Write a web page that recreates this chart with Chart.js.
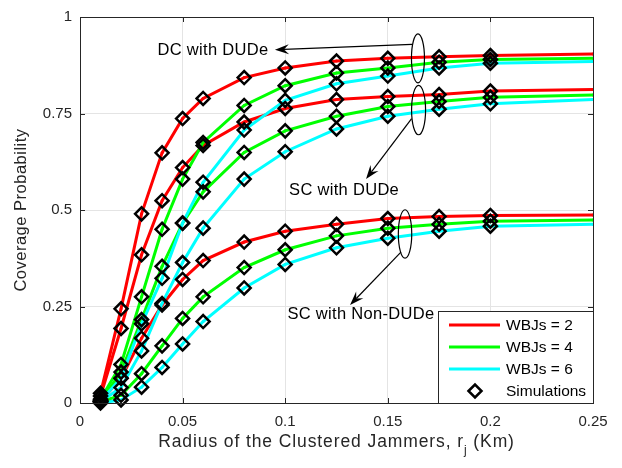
<!DOCTYPE html>
<html>
<head>
<meta charset="utf-8">
<script src="https://cdn.jsdelivr.net/npm/chart.js@4.4.0/dist/chart.umd.min.js"></script>
<style>
    html, body { margin: 0; padding: 0; background: #fff; }
    #wrap { width: 622px; height: 468px; }
</style>
</head>
<body>
<div id="wrap"><canvas id="coverageChart" width="622" height="468"></canvas></div>
<script>
// radius of the clustered jammers (Km); the last point has no simulation marker
const radius = [0.01, 0.02, 0.03, 0.04, 0.05, 0.06, 0.08, 0.1, 0.125, 0.15, 0.175, 0.2, 0.25];
const simCount = 12;

// DC with DUDe
const dcWbj2 = [0.025, 0.244, 0.49, 0.648, 0.737, 0.789, 0.843, 0.868, 0.886, 0.893, 0.897, 0.9, 0.904];
const dcWbj4 = [0.01, 0.1, 0.275, 0.45, 0.58, 0.675, 0.771, 0.822, 0.855, 0.868, 0.883, 0.89, 0.893];
const dcWbj6 = [0.005, 0.064, 0.205, 0.323, 0.466, 0.572, 0.707, 0.784, 0.827, 0.847, 0.868, 0.88, 0.885];

// SC with DUDe
const scWbj2 = [0.018, 0.193, 0.384, 0.524, 0.61, 0.667, 0.728, 0.763, 0.786, 0.794, 0.799, 0.808, 0.812];
const scWbj4 = [0.005, 0.08, 0.216, 0.354, 0.466, 0.547, 0.649, 0.705, 0.743, 0.768, 0.781, 0.792, 0.798];
const scWbj6 = [0.003, 0.04, 0.135, 0.258, 0.364, 0.453, 0.58, 0.651, 0.71, 0.743, 0.761, 0.775, 0.786];

// SC with Non-DUDe
const ndWbj2 = [0.005, 0.064, 0.168, 0.254, 0.32, 0.369, 0.417, 0.445, 0.463, 0.478, 0.483, 0.486, 0.487];
const ndWbj4 = [0.003, 0.02, 0.076, 0.148, 0.219, 0.275, 0.351, 0.397, 0.433, 0.453, 0.463, 0.471, 0.474];
const ndWbj6 = [0.0, 0.008, 0.041, 0.092, 0.153, 0.211, 0.298, 0.359, 0.402, 0.427, 0.445, 0.458, 0.463];

const xTicks = [0, 0.05, 0.1, 0.15, 0.2, 0.25];
const yTicks = [0, 0.25, 0.5, 0.75, 1];
const legendLabels = ['WBJs = 2', 'WBJs = 4', 'WBJs = 6', 'Simulations'];

const FONT = "'Liberation Sans', Arial, sans-serif";
const RED = '#ff0000', GREEN = '#00ff00', CYAN = '#00ffff';

const curves = [
    { values: dcWbj2, color: RED }, { values: dcWbj4, color: GREEN }, { values: dcWbj6, color: CYAN },
    { values: scWbj2, color: RED }, { values: scWbj4, color: GREEN }, { values: scWbj6, color: CYAN },
    { values: ndWbj2, color: RED }, { values: ndWbj4, color: GREEN }, { values: ndWbj6, color: CYAN },
];

const toPoints = (vals, n) => radius.slice(0, n).map((x, i) => ({ x: x, y: vals[i] }));

const datasets = [];
curves.forEach(c => {
    datasets.push({
        type: 'line',
        data: toPoints(c.values, radius.length),
        borderColor: c.color,
        backgroundColor: c.color,
        borderWidth: 3,
        pointRadius: 1.5,
        pointBorderWidth: 0,
        tension: 0,
        order: 2
    });
});
curves.forEach(c => {
    datasets.push({
        type: 'line',
        data: toPoints(c.values, simCount),
        showLine: false,
        pointStyle: 'rectRot',
        pointRadius: 6.5,
        pointBorderWidth: 2.5,
        pointBorderColor: '#000',
        pointBackgroundColor: 'rgba(0,0,0,0)',
        clip: false,
        order: 1
    });
});

// annotations, centres in data units
const notes = [
    { text: 'DC with DUDe', at: [0.0648, 0.913], from: [0.1618, 0.929], to: [0.095, 0.915] },
    { text: 'SC with DUDe', at: [0.1287, 0.55], from: [0.1616, 0.737], to: [0.1394, 0.58] },
    { text: 'SC with Non-DUDe', at: [0.1369, 0.229], from: [0.1564, 0.391], to: [0.1316, 0.254] },
];
const rings = [
    { c: [0.1647, 0.893], rx: 6.5, ry: 24.5 },
    { c: [0.165, 0.759], rx: 7, ry: 24.7 },
    { c: [0.1584, 0.438], rx: 6.7, ry: 24.2 },
];

function drawArrow(ctx, x1, y1, x2, y2) {
    const ang = Math.atan2(y2 - y1, x2 - x1);
    const len = 14, half = 5, notch = 9;
    ctx.beginPath();
    ctx.moveTo(x1, y1);
    ctx.lineTo(x2 - Math.cos(ang) * notch, y2 - Math.sin(ang) * notch);
    ctx.stroke();
    ctx.save();
    ctx.translate(x2, y2);
    ctx.rotate(ang);
    ctx.beginPath();
    ctx.moveTo(0, 0);
    ctx.lineTo(-len, -half);
    ctx.lineTo(-notch, 0);
    ctx.lineTo(-len, half);
    ctx.closePath();
    ctx.fill();
    ctx.restore();
}

const overlayPlugin = {
    id: 'overlay',
    afterDatasetsDraw(chart) {
        const { ctx, chartArea: a, scales: { x, y } } = chart;
        ctx.save();
        ctx.strokeStyle = '#262626';
        ctx.lineWidth = 1;
        ctx.beginPath();
        xTicks.forEach(v => {
            const px = Math.round(x.getPixelForValue(v)) + 0.5;
            ctx.moveTo(px, a.bottom); ctx.lineTo(px, a.bottom - 5);
            ctx.moveTo(px, a.top); ctx.lineTo(px, a.top + 5);
        });
        yTicks.forEach(v => {
            const py = Math.round(y.getPixelForValue(v)) + 0.5;
            ctx.moveTo(a.left, py); ctx.lineTo(a.left + 5, py);
            ctx.moveTo(a.right, py); ctx.lineTo(a.right - 5, py);
        });
        ctx.stroke();
        ctx.strokeRect(Math.round(a.left) + 0.5, Math.round(a.top) + 0.5,
            Math.round(a.right - a.left), Math.round(a.bottom - a.top));
        ctx.restore();
    },
    afterDraw(chart) {
        const { ctx, chartArea: a, scales: { x, y } } = chart;
        ctx.save();

        // annotations
        ctx.strokeStyle = '#000';
        ctx.fillStyle = '#000';
        ctx.lineWidth = 1.2;
        rings.forEach(r => {
            ctx.beginPath();
            ctx.ellipse(x.getPixelForValue(r.c[0]), y.getPixelForValue(r.c[1]), r.rx, r.ry, 0, 0, Math.PI * 2);
            ctx.stroke();
        });
        ctx.font = '16.5px ' + FONT;
        ctx.letterSpacing = '0.3px';
        ctx.textAlign = 'center';
        ctx.textBaseline = 'middle';
        notes.forEach(n => {
            drawArrow(ctx, x.getPixelForValue(n.from[0]), y.getPixelForValue(n.from[1]),
                x.getPixelForValue(n.to[0]), y.getPixelForValue(n.to[1]));
            ctx.fillText(n.text, x.getPixelForValue(n.at[0]), y.getPixelForValue(n.at[1]));
        });
        ctx.letterSpacing = '0px';

        // legend box
        const bw = 155, bh = 92;
        const bx = Math.round(a.right) - bw, by = Math.round(a.bottom) - bh;
        ctx.fillStyle = '#fff';
        ctx.fillRect(bx, by, bw, bh);
        ctx.strokeStyle = '#262626';
        ctx.lineWidth = 1;
        ctx.strokeRect(bx + 0.5, by + 0.5, bw, bh);
        const lineColors = [RED, GREEN, CYAN];
        ctx.font = '15.5px ' + FONT;
        ctx.textAlign = 'left';
        ctx.textBaseline = 'middle';
        legendLabels.forEach((label, i) => {
            const ly = by + 14 + i * 22;
            if (i < 3) {
                ctx.strokeStyle = lineColors[i];
                ctx.lineWidth = 3;
                ctx.beginPath();
                ctx.moveTo(bx + 11, ly); ctx.lineTo(bx + 62, ly);
                ctx.stroke();
            } else {
                const cx = bx + 37, r = 6.5;
                ctx.strokeStyle = '#000';
                ctx.lineWidth = 2.5;
                ctx.beginPath();
                ctx.moveTo(cx - r, ly); ctx.lineTo(cx, ly - r);
                ctx.lineTo(cx + r, ly); ctx.lineTo(cx, ly + r);
                ctx.closePath();
                ctx.stroke();
            }
            ctx.fillStyle = '#000';
            ctx.fillText(label, bx + 68, ly + 1);
        });

        // axis titles
        ctx.fillStyle = '#262626';
        const big = '17.5px ' + FONT, small = '12px ' + FONT;
        ctx.letterSpacing = '0.9px';
        ctx.font = big;
        const t1 = 'Radius of the Clustered Jammers, r', t2 = 'j', t3 = ' (Km)';
        const w1 = ctx.measureText(t1).width, w3 = ctx.measureText(t3).width;
        ctx.font = small;
        const w2 = ctx.measureText(t2).width;
        let tx = (a.left + a.right) / 2 - (w1 + w2 + w3) / 2;
        const ty = 442;
        ctx.textAlign = 'left';
        ctx.font = big;
        ctx.fillText(t1, tx, ty);
        ctx.font = small;
        ctx.fillText(t2, tx + w1, ty + 9);
        ctx.font = big;
        ctx.fillText(t3, tx + w1 + w2, ty);

        ctx.letterSpacing = '0.5px';
        ctx.font = '16.5px ' + FONT;
        ctx.translate(21, (a.top + a.bottom) / 2);
        ctx.rotate(-Math.PI / 2);
        ctx.textAlign = 'center';
        ctx.fillText('Coverage Probability', 0, 0);
        ctx.restore();
    }
};

new Chart(document.getElementById('coverageChart'), {
    type: 'line',
    data: { datasets: datasets },
    options: {
        responsive: false,
        animation: false,
        events: [],
        layout: { padding: { top: 10, right: 29, left: 0, bottom: 0 } },
        plugins: { legend: { display: false }, tooltip: { enabled: false } },
        scales: {
            x: {
                type: 'linear',
                min: 0,
                max: 0.25,
                afterBuildTicks: scale => { scale.ticks = xTicks.map(v => ({ value: v })); },
                afterFit: scale => { scale.height = 65; },
                grid: { color: '#e4e4e4', drawTicks: false },
                border: { display: false },
                ticks: { color: '#262626', padding: 10, maxRotation: 0, font: { family: FONT, size: 15 }, callback: v => String(v) }
            },
            y: {
                type: 'linear',
                min: 0,
                max: 1,
                afterBuildTicks: scale => { scale.ticks = yTicks.map(v => ({ value: v })); },
                afterFit: scale => { scale.width = 80; },
                grid: { color: '#e4e4e4', drawTicks: false },
                border: { display: false },
                ticks: { color: '#262626', padding: 8, font: { family: FONT, size: 15 }, callback: v => String(v) }
            }
        }
    },
    plugins: [overlayPlugin]
});
</script>
</body>
</html>
